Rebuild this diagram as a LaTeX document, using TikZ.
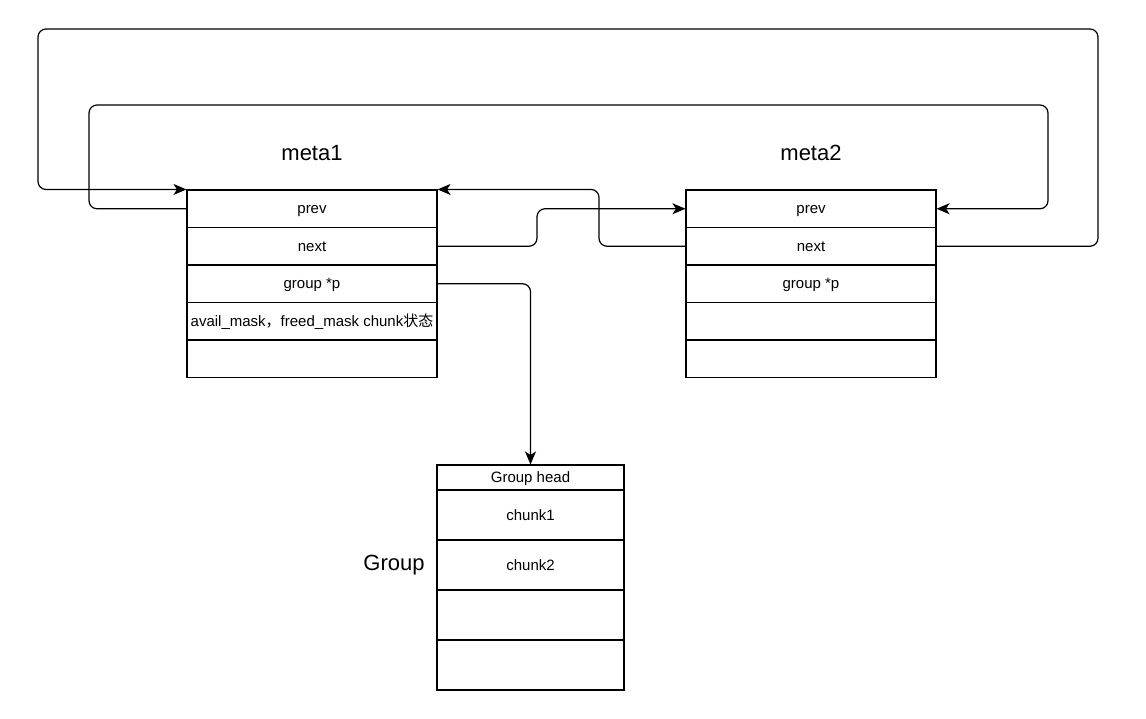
\documentclass[tikz,border=0pt]{standalone}
\usepackage{fontspec}
\setmainfont{Liberation Sans}
\newfontfamily\cjk{Noto Sans CJK SC}
\usepackage{tikz}
\usetikzlibrary{arrows.meta}

\begin{document}
\begin{tikzpicture}[x=1pt, y=-1pt, node distance=37.5pt]
                \tikzstyle{field} = [rectangle, minimum width=250pt, minimum height=37.5pt, inner sep=1pt, text height=13pt, text depth=3pt, text centered, draw, line width=1.1pt, font=\fontsize{15pt}{18pt}\selectfont]
                \tikzstyle{cell} = [field, minimum width=187pt, minimum height=50pt]
                \tikzstyle{title} = [font=\fontsize{22pt}{26pt}\selectfont]
                \tikzstyle{link} = [line width=1.2pt, rounded corners=8pt, -{Stealth[length=13pt,width=11pt,inset=3.5pt]}]
                
                \useasboundingbox (0,0) rectangle (1146,718);
                
                % meta1
                \node (meta1) [title] at (312,153) {meta1};
                \node (m1prev) [field] at (312,208.75) {prev};
                \node (m1next) [field, below of=m1prev] {next};
                \node (m1grp) [field, below of=m1next] {group *p};
                \node (m1mask) [field, below of=m1grp] {avail\_mask{\cjk ，}freed\_mask chunk{\cjk 状态}};
                \node (m1rest) [field, below of=m1mask] {};
                
                % meta2
                \node (meta2) [title] at (811,153) {meta2};
                \node (m2prev) [field] at (811,208.75) {prev};
                \node (m2next) [field, below of=m2prev] {next};
                \node (m2grp) [field, below of=m2next] {group *p};
                \node (m2mask) [field, below of=m2grp] {};
                \node (m2rest) [field, below of=m2mask] {};
                
                % group
                \node (group) [title] at (394,565) {Group};
                \node (ghead) [cell, minimum height=25pt] at (530.5,477.5) {Group head};
                \node (chunk1) [cell, below of=ghead, node distance=37.5pt] {chunk1};
                \node (chunk2) [cell, below of=chunk1, node distance=50pt] {chunk2};
                \node (chunk3) [cell, below of=chunk2, node distance=50pt] {};
                \node (chunk4) [cell, below of=chunk3, node distance=50pt] {};
                
                \draw [link] (m2next.east) -| (1098,29) -| (38,189.5) -- (m1prev.north west);
                \draw [link] (m1prev.west) -| (89,105) -| (1048,208.75) -- (m2prev.east);
                \draw [link] (m1next.east) -- (537,246.25) |- (m2prev.west);
                \draw [link] (m2next.west) -- (599,246.25) |- (m1prev.north east);
                \draw [link] (m1grp.east) -| (ghead.north);
            \end{tikzpicture}
\end{document}
